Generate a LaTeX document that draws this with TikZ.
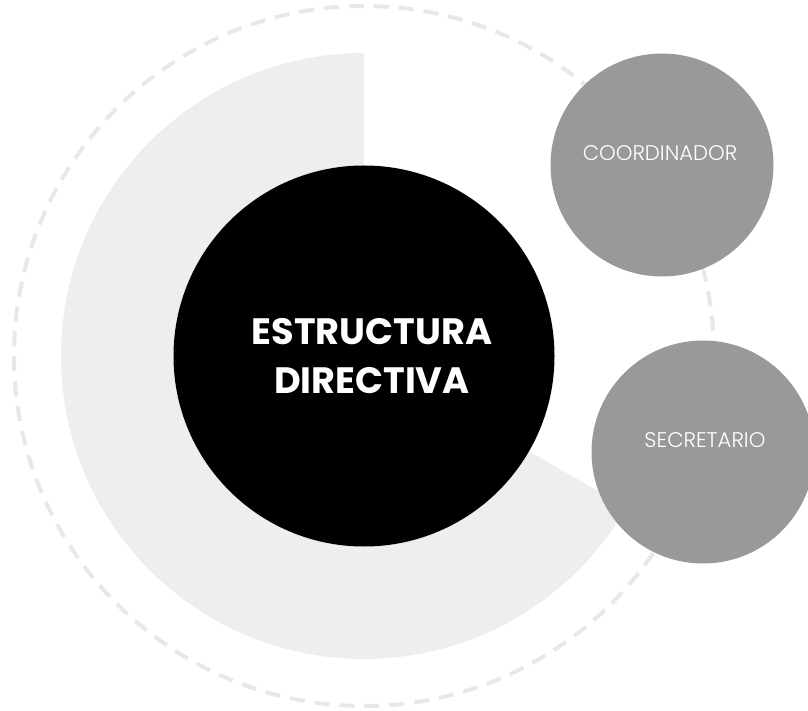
\documentclass[tikz,border=0pt]{standalone}
\usepackage{fontspec}
\setmainfont{Poppins}
\newfontfamily\poplight{Poppins Light}
\usepackage{tikz}

\definecolor{ringgray}{HTML}{E8E8E8}
\definecolor{sectorgray}{HTML}{EEEEEE}
\definecolor{rolegray}{HTML}{999999}

\tikzset{
    rolecircle/.style={circle, fill=rolegray, minimum size=223pt, inner sep=0pt},
    rolelabel/.style={text=white, font=\poplight\fontsize{21.2}{25}\selectfont}
}

\begin{document}
\begin{tikzpicture}[x=1pt,y=1pt]

    \useasboundingbox (0,0) rectangle (808,710);

    \draw[ringgray, line width=4pt, dash pattern=on 15pt off 10pt] (364,354) circle (350pt);

    \fill[sectorgray] (364,354) -- (364,657) arc (90:330:303pt) -- cycle;

    \node[circle, fill=black, minimum size=381pt, inner sep=0pt] (centro) at (364,354) {};
    \node[text=white, align=center, font=\fontsize{36.7}{49}\selectfont\bfseries] (titulo) at ([xshift=8pt]centro.center) {ESTRUCTURA\\DIRECTIVA};

    \node[rolecircle] (coord) at (662,545) {};
    \node[rolelabel] (coordtxt) at ([xshift=-2pt,yshift=12pt]coord.center) {COORDINADOR};

    \node[rolecircle] (secre) at (703,258) {};
    \node[rolelabel] (secretxt) at ([xshift=2pt,yshift=12pt]secre.center) {SECRETARIO};

\end{tikzpicture}
\end{document}
